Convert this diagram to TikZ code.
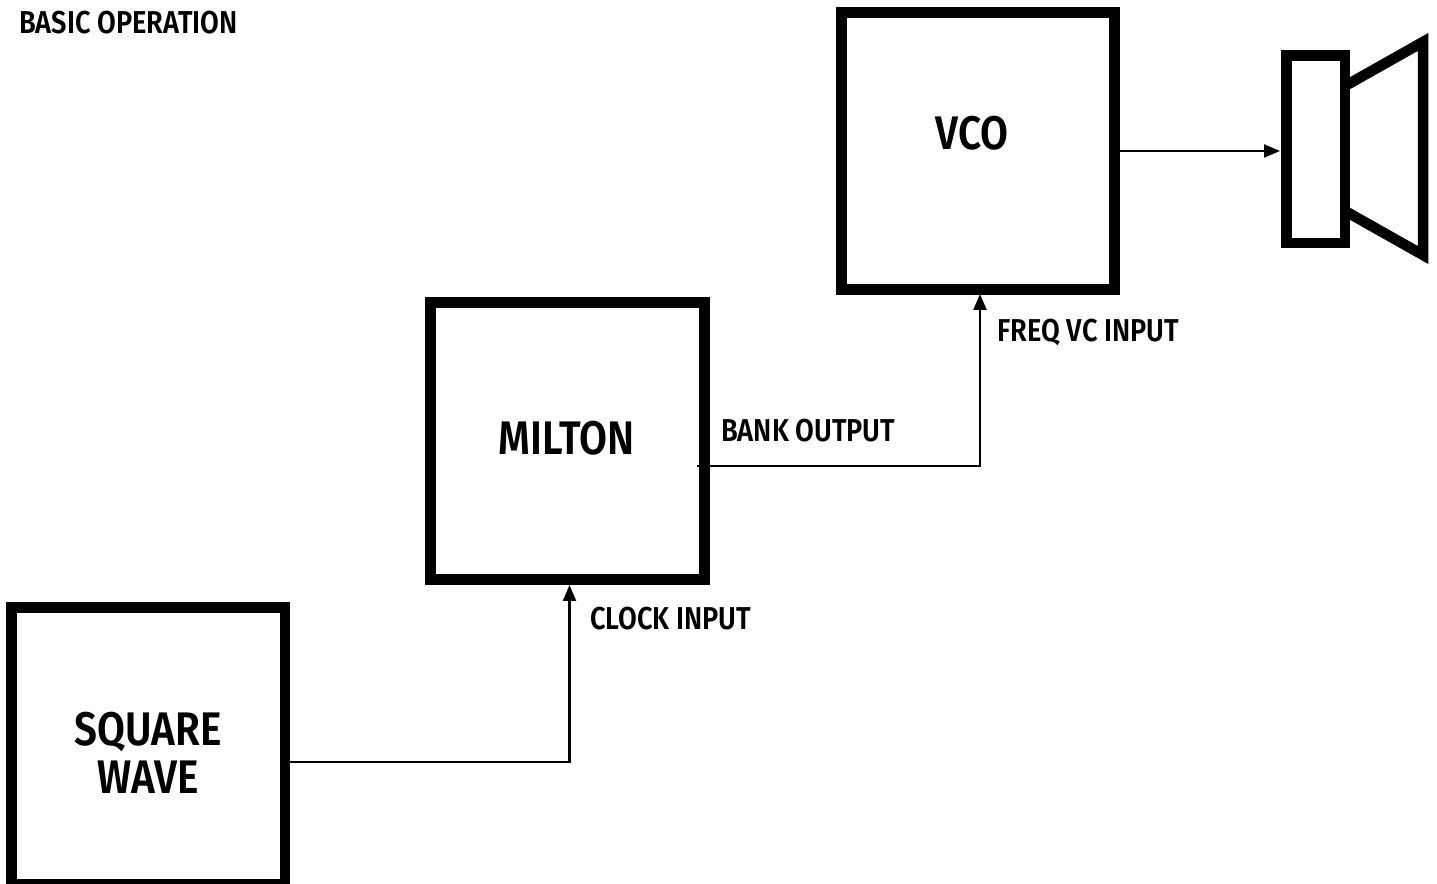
\documentclass[tikz,border=0pt]{standalone}
\usepackage{fontspec}
\setmainfont[FakeStretch=0.86]{Fira Sans SemiBold}
\usetikzlibrary{arrows.meta}
\tikzset{
  blockbox/.style={draw, line width=0.21cm, minimum height=5.54cm},
  wirearrow/.style={line width=0.045cm, -{Triangle[length=0.32cm,width=0.26cm]}},
  bigtext/.style={font=\fontsize{26.8}{27.3}\selectfont, align=center, inner sep=0pt},
  smalltext/.style={font=\fontsize{18}{20}\selectfont, anchor=west, inner sep=0pt}
}
\begin{document}
\begin{tikzpicture}[x=1cm,y=1cm]
\useasboundingbox (0,0) rectangle (28.74,17.68);
\node[blockbox, minimum width=5.47cm] (square) at (2.96,2.76) {};
\node[blockbox, minimum width=5.48cm] (milton) at (11.35,8.86) {};
\node[blockbox, minimum width=5.46cm] (vco) at (19.56,14.66) {};
\draw[line width=0.21cm] (26.90,15.96) -- (28.46,16.84) -- (28.46,12.58) -- (26.90,13.46);
\node[draw, line width=0.21cm, minimum width=1.17cm, minimum height=3.75cm] (speaker) at (26.315,14.695) {};
\node[bigtext] (squaretext) at (2.96,2.62) {SQUARE\\WAVE};
\node[bigtext] (miltontext) at (11.33,8.92) {MILTON};
\node[bigtext] (vcotext) at (19.44,15.02) {VCO};
\node[smalltext] (titletext) at (0.38,17.22) {BASIC OPERATION};
\node[smalltext] (clocktext) at (11.80,5.31) {CLOCK INPUT};
\node[smalltext] (banktext) at (14.42,9.07) {BANK OUTPUT};
\node[smalltext] (freqtext) at (19.94,11.04) {FREQ VC INPUT};
\coordinate (squareout) at (5.80,2.44);
\coordinate (clockin) at (11.39,5.98);
\coordinate (bankout) at (13.94,8.36);
\coordinate (freqin) at (19.60,11.80);
\coordinate (vcoout) at (22.40,14.66);
\coordinate (speakerin) at (25.60,14.66);
\draw[wirearrow] (squareout) -| (clockin);
\draw[wirearrow] (bankout) -| (freqin);
\draw[wirearrow] (vcoout) -- (speakerin);
\end{tikzpicture}
\end{document}
